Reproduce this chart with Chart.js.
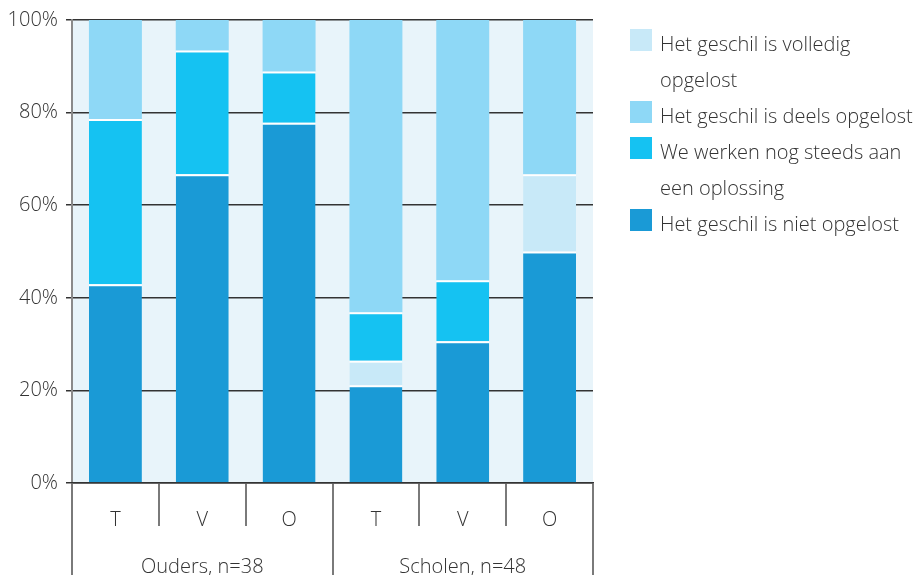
<!DOCTYPE html>
<html>
<head>
<meta charset="utf-8">
<script src="https://cdn.jsdelivr.net/npm/chart.js@4"></script>
<style>
  html,body{margin:0;padding:0;background:#fff;}
  #wrap{position:relative;width:915px;height:575px;}
  #legend{position:absolute;left:630px;top:26px;font-family:"Open Sans",sans-serif;
    font-weight:300;font-size:20px;color:#333;line-height:36px;white-space:nowrap;}
  .item{position:relative;padding-left:30px;}
  .box{position:absolute;left:0;top:3px;width:22px;height:22px;}
</style>
</head>
<body>
<div id="wrap">
  <canvas id="chart" width="915" height="575"></canvas>
  <div id="legend"></div>
</div>
<script>
/* ===============================
   DATA
================================ */
const categories = ["T","V","O","T","V","O"];
const groups = ["Ouders, n=38","Scholen, n=48"];
const yTicks = [0,20,40,60,80,100];

const niet     = [42.9, 66.7, 77.8, 21.1, 30.6, 50.0];
const volledig = [ 0.0,  0.0,  0.0,  5.3,  0.0, 16.7];
const werken   = [35.7, 26.7, 11.1, 10.5, 13.2,  0.0];
const deels    = [21.4,  6.6, 11.1, 63.1, 56.2, 33.3];

const seriesNames = [
  "Het geschil is niet opgelost",
  "Het geschil is volledig opgelost",
  "We werken nog steeds aan een oplossing",
  "Het geschil is deels opgelost"
];
/* legend wraps like the original */
const legendText = {
  "Het geschil is volledig opgelost":"Het geschil is volledig<br>opgelost",
  "We werken nog steeds aan een oplossing":"We werken nog steeds aan<br>een oplossing"
};
const legendOrder = [1,3,2,0];
const colors = ["#1a9ad6","#c8e9f8","#15c2f2","#8ed8f6"];

const FONT = "'Open Sans', sans-serif";
const TEXT = "#333";


/* PLOT BACKGROUND */
const plotBg = {
  id:"plotBg",
  beforeDraw(chart){
    const {ctx, chartArea:a} = chart;
    ctx.save();
    ctx.fillStyle = "#e8f4fa";
    ctx.fillRect(a.left, a.top, a.right-a.left, a.bottom-a.top);
    ctx.restore();
  }
};


/* CHART */
const seriesData = [niet, volledig, werken, deels];

const datasets = seriesData.map((d,i)=>({
  label:seriesNames[i],
  data:d,
  backgroundColor:colors[i],
  borderColor:"#ffffff",
  borderWidth: i===3 ? 0 : {top:2,right:0,bottom:0,left:0},
  borderSkipped:false,
  barPercentage:0.61,
  categoryPercentage:1
}));

const tickFont = {family:FONT,size:20,weight:300};

const chart = new Chart(document.getElementById("chart"),{
  type:"bar",
  data:{ labels:categories, datasets:datasets },
  plugins:[plotBg],
  options:{
    responsive:false,
    animation:false,
    layout:{ padding:{ top:19, right:322, bottom:0, left:0 } },
    plugins:{
      legend:{ display:false },
      tooltip:{ enabled:false }
    },
    scales:{
      y:{
        stacked:true,
        min:0, max:100,
        afterFit(s){ s.width = 72; },
        afterBuildTicks(s){ s.ticks = yTicks.map(v=>({value:v})); },
        ticks:{ callback:v=>v+"%", color:TEXT, font:tickFont, padding:8 },
        grid:{ color:"#333", lineWidth:1.5, tickLength:6 },
        border:{ color:"#8a8a8a", width:2 }
      },
      x:{
        stacked:true,
        offset:true,
        afterFit(s){ s.height = 43; },
        ticks:{ color:TEXT, font:tickFont, padding:-18 },
        grid:{ offset:true, drawOnChartArea:false, tickLength:43,
               color:"#7a7a7a", lineWidth:2 },
        border:{ color:"#333", width:1.5 }
      },
      x2:{
        type:"category",
        position:"bottom",
        labels:groups,
        offset:true,
        afterFit(s){ s.height = 49; },
        ticks:{ color:TEXT, font:tickFont, padding:-20 },
        grid:{ offset:true, drawOnChartArea:false, tickLength:49,
               color:"#7a7a7a", lineWidth:2 },
        border:{ display:false }
      }
    }
  }
});


/* LEGEND */
const legend = document.getElementById("legend");
legendOrder.forEach(i=>{
  const ds = chart.data.datasets[i];
  const div = document.createElement("div");
  div.className = "item";
  div.innerHTML = `<span class="box" style="background:${ds.backgroundColor}"></span>`
    + (legendText[ds.label] || ds.label);
  legend.appendChild(div);
});
</script>
</body>
</html>
